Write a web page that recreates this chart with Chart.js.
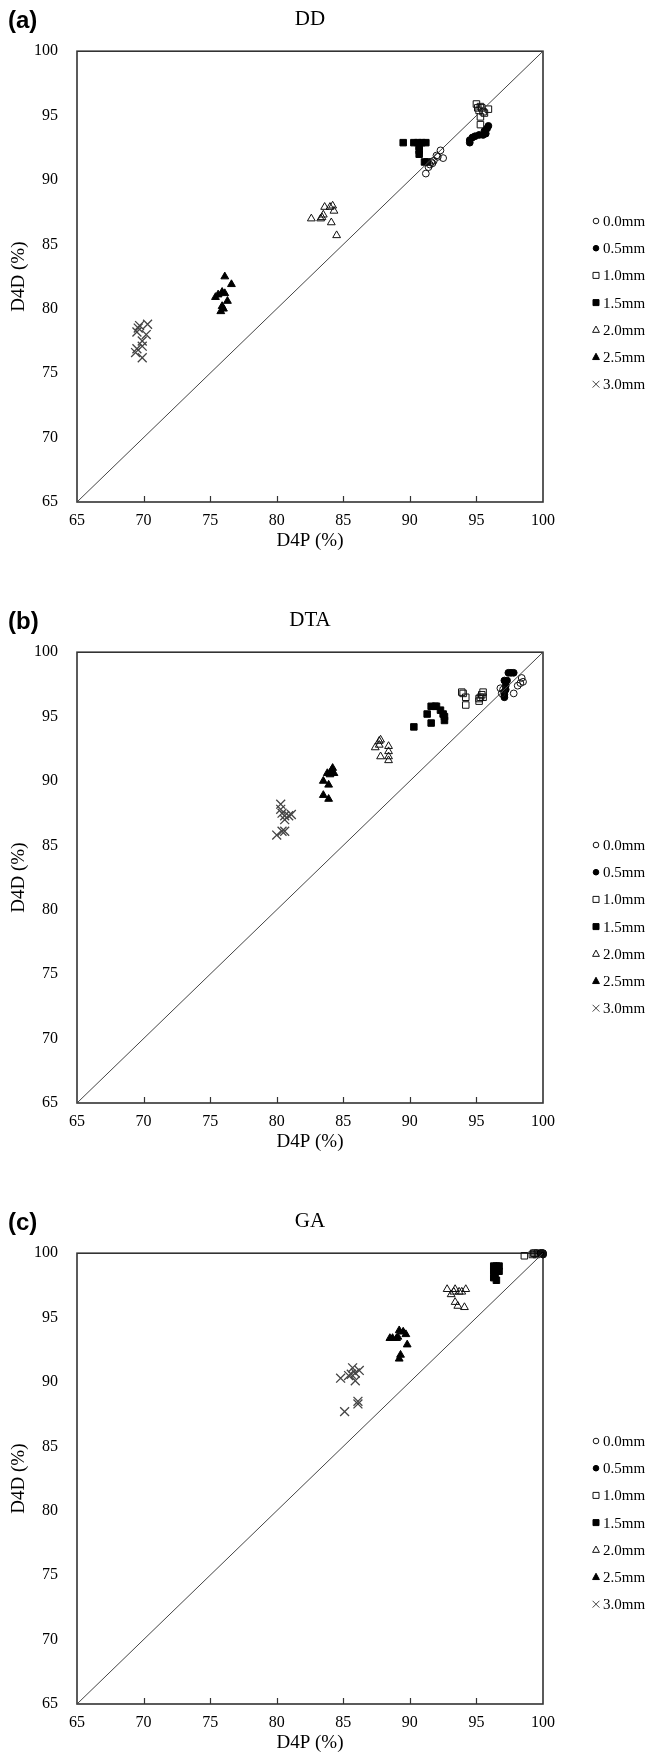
<!DOCTYPE html>
<html><head><meta charset="utf-8">
<script src="https://cdn.jsdelivr.net/npm/chart.js@4.4.1/dist/chart.umd.min.js"></script>
<style>
html,body{margin:0;padding:0;background:#fff;}
body{width:648px;height:1760px;position:relative;overflow:hidden;}
.panel{position:absolute;left:0;width:648px;height:558px;}
canvas{display:block;}
</style></head><body>
<div class="panel" style="top:0px"><canvas id="c0" width="648" height="558"></canvas></div>
<div class="panel" style="top:601px"><canvas id="c1" width="648" height="558"></canvas></div>
<div class="panel" style="top:1202px"><canvas id="c2" width="648" height="558"></canvas></div>
<script>
// ---------- data ----------
const SERIES = ['0.0mm','0.5mm','1.0mm','1.5mm','2.0mm','2.5mm','3.0mm'];
const PANEL_TAGS = ['(a)','(b)','(c)'];
const PANEL_TITLES = ['DD','DTA','GA'];
const X_TITLE = 'D4P (%)';
const Y_TITLE = 'D4D (%)';
const AXIS_MIN = 65, AXIS_MAX = 100, AXIS_STEP = 5;
const IDENTITY = [65, 100];

// (a) DD
const DD_00 = [[92.3,92.3],[92.1,91.8],[92.5,91.7],[91.7,91.3],[91.5,91.2],[91.4,91.0],[91.2,90.5],[91.6,91.4],[91.8,91.5],[92.0,91.9]];
const DD_05 = [[94.5,92.9],[94.5,93.1],[94.7,93.3],[94.9,93.4],[95.2,93.5],[95.5,93.5],[95.6,93.8],[95.8,94.0],[95.9,94.2],[95.7,93.6]];
const DD_10 = [[95.0,95.9],[95.1,95.6],[95.3,95.7],[95.5,95.3],[95.9,95.5],[95.3,94.9],[95.3,94.3],[95.6,95.2],[95.2,95.4],[95.4,95.6]];
const DD_15 = [[89.5,92.9],[90.3,92.9],[90.6,92.9],[90.9,92.9],[91.2,92.9],[90.7,92.6],[90.7,92.3],[90.7,92.0],[91.1,91.4],[91.3,91.4]];
const DD_20 = [[82.6,87.0],[83.3,87.0],[83.5,87.3],[83.6,87.9],[84.0,87.9],[84.2,88.0],[84.3,87.6],[84.1,86.7],[84.5,85.7],[83.4,87.1]];
const DD_25 = [[76.1,82.5],[76.6,81.9],[75.6,81.1],[75.9,81.3],[76.1,81.2],[76.3,80.6],[75.9,80.2],[76.0,80.0],[75.8,79.8],[75.4,80.9]];
const DD_30 = [[69.7,78.7],[70.3,78.8],[69.5,78.2],[70.2,78.0],[69.9,77.5],[69.9,77.1],[69.5,76.9],[69.4,76.6],[69.9,76.2],[69.6,78.5]];

// (b) DTA
const DTA_00 = [[96.8,97.2],[96.9,96.8],[97.8,96.8],[98.1,97.4],[98.4,98.0],[98.5,97.7],[98.3,97.6],[97.0,97.1]];
const DTA_05 = [[97.1,97.8],[97.3,97.8],[97.4,98.4],[97.6,98.4],[97.8,98.4],[97.1,96.9],[97.1,96.5],[97.2,97.4],[97.2,97.1],[97.1,96.7]];
const DTA_10 = [[93.9,96.9],[94.2,96.5],[94.2,95.9],[95.2,96.2],[95.3,96.5],[95.5,96.9],[95.5,96.5],[95.2,96.4],[94.0,96.8],[95.4,96.7]];
const DTA_15 = [[90.3,94.2],[91.3,95.2],[91.6,94.5],[91.6,95.8],[91.9,95.8],[92.0,95.8],[92.3,95.5],[92.5,95.2],[92.6,94.7],[92.6,95.0]];
const DTA_20 = [[87.4,92.6],[87.7,93.1],[87.8,93.2],[87.7,92.8],[87.8,91.9],[88.4,92.7],[88.4,92.3],[88.4,91.9],[88.4,91.6]];
const DTA_25 = [[83.5,90.0],[83.9,89.7],[83.5,88.9],[83.9,88.6],[83.8,90.6],[84.1,90.8],[84.2,91.0],[84.3,90.6],[84.0,90.5]];
const DTA_30 = [[80.3,88.2],[80.3,87.8],[80.4,87.5],[80.6,87.3],[80.9,87.3],[81.1,87.4],[80.6,87.0],[80.4,86.1],[80.6,86.1],[80.0,85.8]];

// (c) GA
const GA_00 = [[99.9,100],[100,100],[100,99.9]];
const GA_05 = [[99.8,100],[99.9,100],[100,100],[100,99.9]];
const GA_10 = [[98.6,99.8],[99.2,99.9],[99.4,100],[99.6,100],[99.5,99.9],[99.3,100]];
const GA_15 = [[96.3,99.0],[96.5,99.0],[96.7,99.0],[96.3,98.6],[96.5,98.6],[96.7,98.6],[96.3,98.1],[96.5,97.9],[96.4,98.3]];
const GA_20 = [[92.8,97.2],[93.1,96.8],[93.4,97.2],[93.7,97.0],[93.9,97.0],[94.2,97.2],[93.4,96.2],[93.6,95.9],[94.1,95.8],[93.3,97.0]];
const GA_25 = [[88.5,93.4],[88.7,93.4],[89.0,93.4],[89.2,94.0],[89.5,93.9],[89.7,93.7],[89.8,92.9],[89.2,91.8],[89.3,92.1],[89.1,93.5]];
const GA_30 = [[84.8,90.3],[85.4,90.5],[85.7,91.1],[85.9,90.7],[86.2,90.9],[85.9,90.1],[85.6,90.6],[85.1,87.7],[86.1,88.5],[86.1,88.3]];

const PANEL_DATA = [
  [DD_00, DD_05, DD_10, DD_15, DD_20, DD_25, DD_30],
  [DTA_00, DTA_05, DTA_10, DTA_15, DTA_20, DTA_25, DTA_30],
  [GA_00, GA_05, GA_10, GA_15, GA_20, GA_25, GA_30]
];

// ---------- styles ----------
const SERIF = "'Liberation Serif','Times New Roman',serif";
const STYLES = [
  {ps:'circle',   fill:false, r:3.4, lr:2.8, color:'#111', w:1},
  {ps:'circle',   fill:true,  r:3.4, lr:2.8, color:'#000', w:1},
  {ps:'rect',     fill:false, r:4.6, lr:3.0, color:'#111', w:1},
  {ps:'rect',     fill:true,  r:4.6, lr:3.0, color:'#000', w:1},
  {ps:'triangle', fill:false, r:4.5, lr:3.4, color:'#111', w:1},
  {ps:'triangle', fill:true,  r:4.5, lr:3.4, color:'#000', w:1},
  {ps:'crossRot', fill:false, r:6.3, lr:3.4, color:'#444', w:1.3}
];
const LEGEND_TOP = [221, 244, 239];
const LEGEND_STEP = 27.2;

function drawSym(ctx, st, x, y, r){
  ctx.save();
  ctx.beginPath();
  if (st.ps === 'circle') ctx.arc(x, y, r, 0, Math.PI*2);
  else if (st.ps === 'rect') ctx.rect(x-r, y-r, 2*r, 2*r);
  else if (st.ps === 'triangle') { ctx.moveTo(x, y-r*1.1); ctx.lineTo(x+r, y+r*0.75); ctx.lineTo(x-r, y+r*0.75); ctx.closePath(); }
  else { ctx.moveTo(x-r,y-r); ctx.lineTo(x+r,y+r); ctx.moveTo(x+r,y-r); ctx.lineTo(x-r,y+r); }
  if (st.fill) { ctx.fillStyle = st.color; ctx.fill(); }
  ctx.strokeStyle = st.color; ctx.lineWidth = 1; ctx.stroke();
  ctx.restore();
}

const framePlugin = {
  id:'frame',
  beforeDatasetsDraw(chart){
    const {ctx, chartArea:a, scales:{x}} = chart;
    ctx.save();
    ctx.strokeStyle = '#333'; ctx.lineWidth = 1.6;
    ctx.strokeRect(a.left, a.top, a.right-a.left, a.bottom-a.top);
    ctx.lineWidth = 1.2;
    ctx.beginPath();
    for (let v = AXIS_MIN + AXIS_STEP; v < AXIS_MAX; v += AXIS_STEP) {
      const px = Math.round(x.getPixelForValue(v)) + 0.5;
      ctx.moveTo(px, a.bottom); ctx.lineTo(px, a.bottom - 6);
    }
    ctx.stroke();
    ctx.restore();
  }
};

const decoPlugin = {
  id:'deco',
  afterDraw(chart, args, opts){
    const ctx = chart.ctx;
    ctx.save();
    ctx.fillStyle = '#000';
    ctx.font = "bold 24px 'Liberation Sans',Arial,sans-serif";
    ctx.textAlign = 'left'; ctx.textBaseline = 'middle';
    ctx.fillText(opts.tag, 8, 21);
    ctx.font = "15px " + SERIF;
    SERIES.forEach((lab, i) => {
      const y = opts.legendTop + i*LEGEND_STEP;
      drawSym(ctx, STYLES[i], 596, y, STYLES[i].lr);
      ctx.fillStyle = '#000';
      ctx.fillText(lab, 603, y + 1);
    });
    ctx.restore();
  }
};

function makeChart(idx){
  const datasets = PANEL_DATA[idx].map((arr, i) => {
    const st = STYLES[i];
    return {
      label: SERIES[i],
      data: arr.map(([x, y]) => ({x, y})),
      pointStyle: st.ps,
      pointRadius: st.r,
      pointHoverRadius: st.r,
      borderWidth: st.w,
      borderColor: st.color,
      backgroundColor: st.fill ? st.color : 'rgba(0,0,0,0)',
      clip: false
    };
  });
  datasets.unshift({
    label: 'identity',
    data: IDENTITY.map(v => ({x: v, y: v})),
    showLine: true,
    borderColor: '#444',
    borderWidth: 1,
    pointRadius: 0,
    fill: false
  });
  return new Chart(document.getElementById('c' + idx), {
    type: 'scatter',
    data: {datasets},
    plugins: [framePlugin, decoPlugin],
    options: {
      responsive: false,
      animation: false,
      events: [],
      layout: {padding: 0},
      plugins: {
        legend: {display: false},
        tooltip: {enabled: false},
        title: {
          display: true, text: PANEL_TITLES[idx], fullSize: false,
          color: '#000', font: {family: SERIF, size: 21, weight: 'normal'},
          padding: {top: 7, bottom: 19}
        },
        deco: {tag: PANEL_TAGS[idx], legendTop: LEGEND_TOP[idx]}
      },
      scales: {
        x: {
          type: 'linear', position: 'bottom', min: AXIS_MIN, max: AXIS_MAX,
          ticks: {stepSize: AXIS_STEP, color: '#000', font: {family: SERIF, size: 16}, padding: 9, maxRotation: 0},
          grid: {display: false, drawTicks: false},
          border: {display: false},
          title: {display: true, text: X_TITLE, color: '#000', font: {family: SERIF, size: 19}, padding: {top: 0, bottom: 6}},
          afterFit(s){ s.height = 56; }
        },
        y: {
          type: 'linear', position: 'left', min: AXIS_MIN, max: AXIS_MAX,
          ticks: {stepSize: AXIS_STEP, color: '#000', font: {family: SERIF, size: 16}, padding: 19},
          grid: {display: false, drawTicks: false},
          border: {display: false},
          title: {display: true, text: Y_TITLE, color: '#000', font: {family: SERIF, size: 19}, padding: {top: 8, bottom: 0}},
          afterFit(s){ s.width = 77; }
        },
        y2: {
          type: 'linear', position: 'right', display: true,
          ticks: {display: false}, grid: {display: false, drawTicks: false}, border: {display: false},
          afterFit(s){ s.width = 105; }
        }
      }
    }
  });
}
[0, 1, 2].forEach(makeChart);
</script>
</body></html>
